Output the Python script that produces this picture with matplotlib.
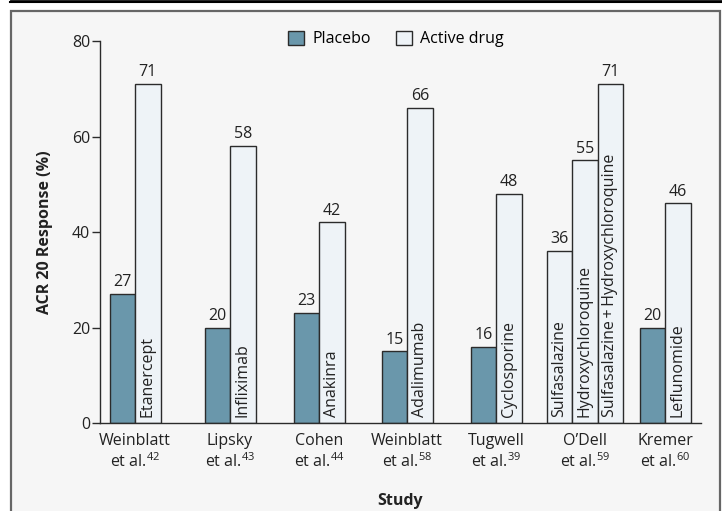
import matplotlib.pyplot as plt
from matplotlib.patches import Rectangle
from matplotlib.lines import Line2D

plt.rcParams['font.family'] = ['Open Sans', 'DejaVu Sans']
plt.rcParams['mathtext.fontset'] = 'custom'
plt.rcParams['mathtext.rm'] = 'Open Sans'
plt.rcParams['mathtext.it'] = 'Open Sans'

# data
studies = ["Weinblatt\net al.$^{42}$", "Lipsky\net al.$^{43}$", "Cohen\net al.$^{44}$",
           "Weinblatt\net al.$^{58}$", "Tugwell\net al.$^{39}$", "O\u2019Dell\net al.$^{59}$",
           "Kremer\net al.$^{60}$"]
placebo = [27, 20, 23, 15, 16, None, 20]
active = [71, 58, 42, 66, 48, None, 46]
drugs = ["Etanercept", "Infliximab", "Anakinra", "Adalimumab", "Cyclosporine", None, "Leflunomide"]
odell_drugs = ["Sulfasalazine", "Hydroxychloroquine", "Sulfasalazine\u2009+\u2009Hydroxychloroquine"]
odell_active = [36, 55, 71]

# layout (axis units = pixels of the original)
group_x = [135, 230, 319, 407, 496, 585, 665]
bar_w = 25.5

placebo_col = "#6a97ab"
active_col = "#eef3f7"
edge = "#2b2b2b"
txt = "#222222"
bg = "#f6f6f6"
fs = 11.5

W, H = 722, 511
fig = plt.figure(figsize=(W / 100, H / 100), dpi=100)
fig.patch.set_facecolor("white")

# panel frame and top rule
fig.patches.append(Rectangle((11 / W, -0.05), 709 / W, (H - 11) / H + 0.05,
                             transform=fig.transFigure, facecolor=bg,
                             edgecolor="#666666", lw=1.6, zorder=-10))
fig.lines.append(Line2D([10 / W, 1], [1 - 2.5 / H, 1 - 2.5 / H], transform=fig.transFigure,
                        color="black", lw=1.5))
fig.lines.append(Line2D([10 / W, 1], [1 - 0.3 / H, 1 - 0.3 / H], transform=fig.transFigure,
                        color="black", lw=0.6))

ax = fig.add_axes([100 / W, 88 / H, 601 / W, 382 / H])
ax.set_facecolor("none")
ax.set_xlim(100, 701)
ax.set_ylim(0, 80)

for i, gx in enumerate(group_x):
    if placebo[i] is None:
        xs = [gx - bar_w, gx, gx + bar_w]
        ax.bar(xs, odell_active, width=bar_w, color=active_col, edgecolor=edge, lw=1.0)
        for x, v, d in zip(xs, odell_active, odell_drugs):
            ax.text(x, v + 0.8, str(v), ha="center", va="bottom", fontsize=fs, color=txt)
            ax.text(x, 1.2, d, rotation=90, ha="center", va="bottom", fontsize=fs, color=txt)
        continue
    ax.bar(gx - bar_w / 2, placebo[i], width=bar_w, color=placebo_col, edgecolor=edge, lw=1.0)
    ax.bar(gx + bar_w / 2, active[i], width=bar_w, color=active_col, edgecolor=edge, lw=1.0)
    ax.text(gx - bar_w / 2, placebo[i] + 0.8, str(placebo[i]), ha="center", va="bottom",
            fontsize=fs, color=txt)
    ax.text(gx + bar_w / 2, active[i] + 0.8, str(active[i]), ha="center", va="bottom",
            fontsize=fs, color=txt)
    ax.text(gx + bar_w / 2, 1.2, drugs[i], rotation=90, ha="center", va="bottom",
            fontsize=fs, color=txt)

ax.set_xticks(group_x)
ax.set_xticklabels(studies, fontsize=fs, color=txt, linespacing=1.25)
ax.tick_params(axis="x", length=0, pad=7)
ax.set_yticks([0, 20, 40, 60, 80])
ax.tick_params(axis="y", length=6, width=1.0, color=edge, labelsize=fs, labelcolor=txt, pad=1)

for s in ["top", "right"]:
    ax.spines[s].set_visible(False)
for s in ["left", "bottom"]:
    ax.spines[s].set_color(edge)
    ax.spines[s].set_linewidth(1.0)

ax.set_ylabel("ACR 20 Response (%)", fontsize=fs, fontweight="bold", color=txt, labelpad=14)
ax.set_xlabel("Study", fontsize=fs, fontweight="bold", color=txt, labelpad=16)

handles = [Rectangle((0, 0), 1, 1, facecolor=placebo_col, edgecolor=edge, lw=1.0),
           Rectangle((0, 0), 1, 1, facecolor=active_col, edgecolor=edge, lw=1.0)]
fig.legend(handles, ["Placebo", "Active drug"], loc="center", bbox_to_anchor=(396 / W, 1 - 39 / H),
           ncol=2, frameon=False, fontsize=fs, handlelength=1.0, handleheight=1.0,
           handletextpad=0.5, columnspacing=1.6)

fig.savefig("out.png", dpi=100, facecolor=fig.get_facecolor())
